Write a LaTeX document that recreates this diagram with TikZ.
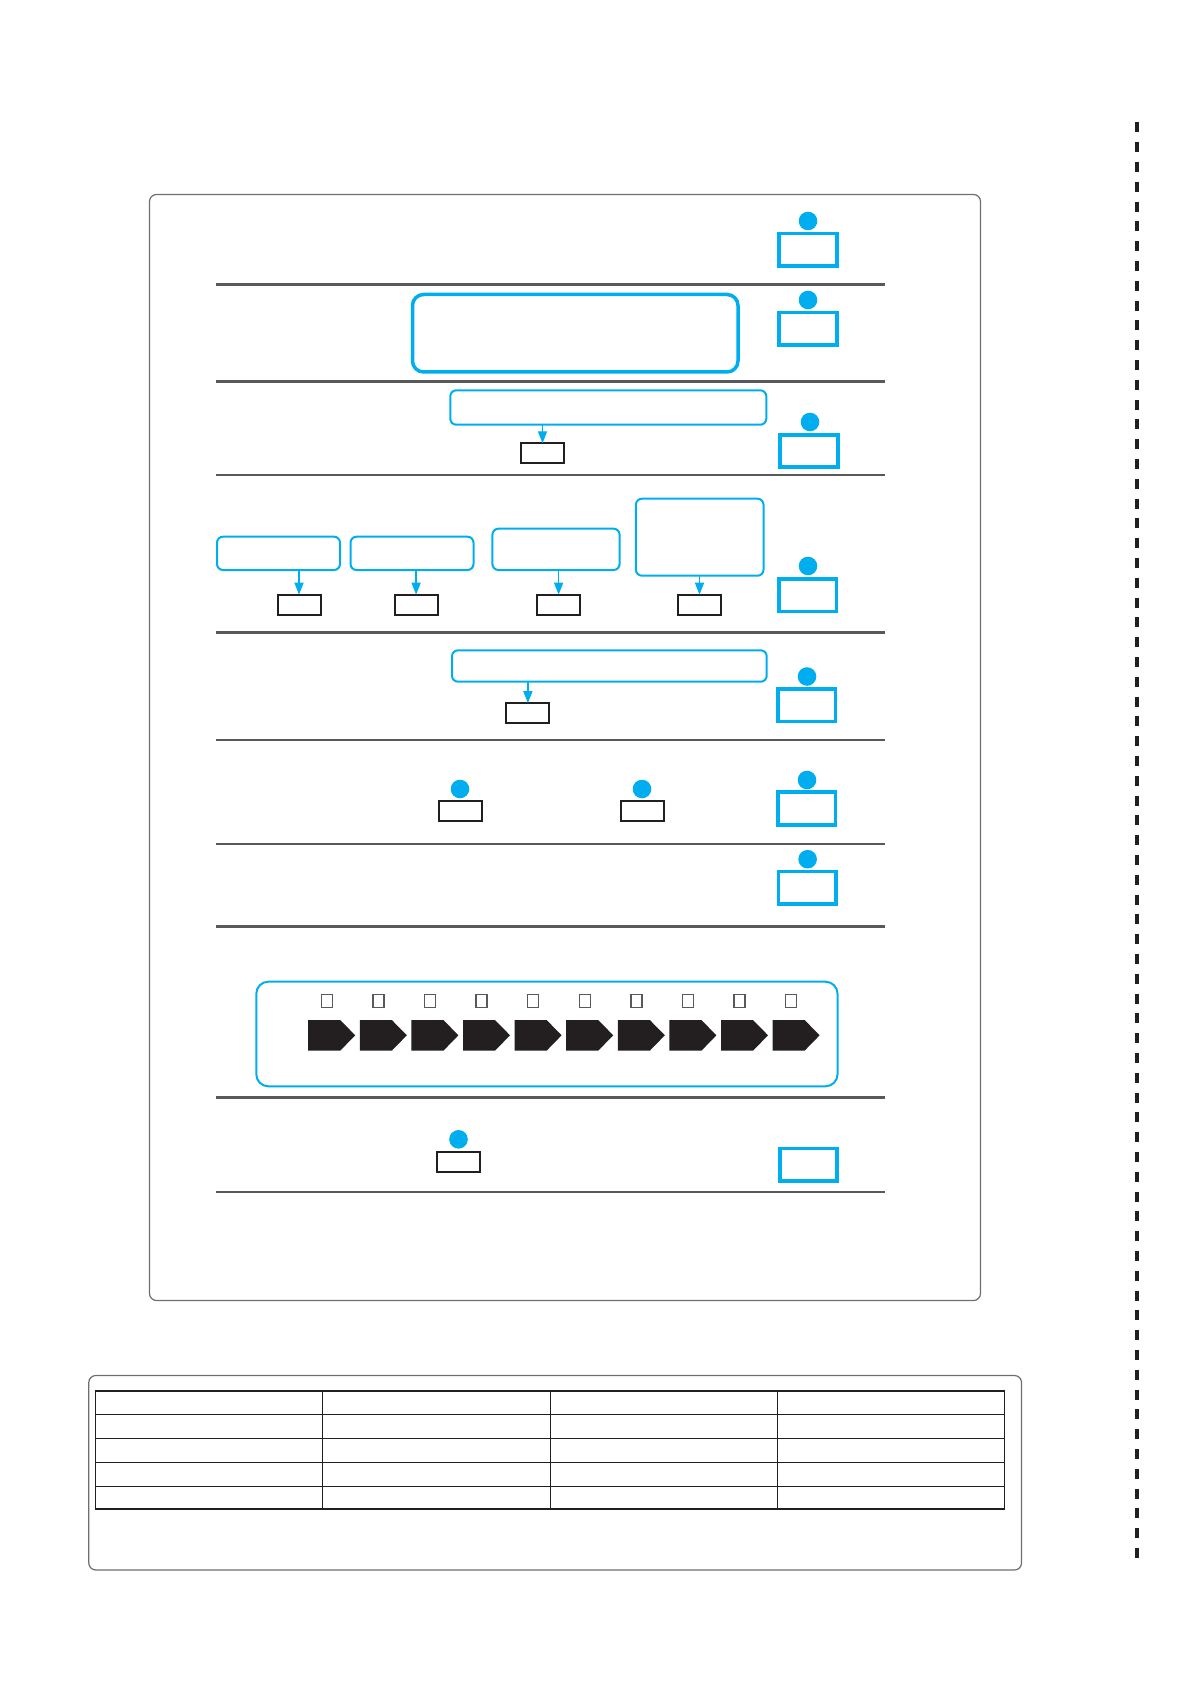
\documentclass[tikz,border=0pt]{standalone}
\usetikzlibrary{arrows.meta}
\definecolor{cyanblue}{HTML}{00AEEF}
\definecolor{inkblack}{HTML}{231F20}
\definecolor{sepgray}{HTML}{58595B}
\definecolor{framegray}{HTML}{6D6E71}
\begin{document}
\begin{tikzpicture}[x=0.5pt,y=-0.5pt,
  frame/.style={draw=framegray,line width=0.6pt,rounded corners=3.5pt},
  sepline/.style={draw=sepgray,line width=1.35pt},
  blbox/.style={draw=cyanblue,line width=1.8pt,minimum width=28.75pt,minimum height=16.25pt,inner sep=0pt,outer sep=0pt},
  dot/.style={circle,fill=cyanblue,minimum size=9.3pt,inner sep=0pt},
  sbox/.style={draw=inkblack,line width=1pt,minimum width=21.5pt,minimum height=10pt,inner sep=0pt,outer sep=0pt},
  rbox/.style={draw=cyanblue,line width=1pt,rounded corners=3pt,inner sep=0pt,outer sep=0pt},
  conn/.style={draw=cyanblue,line width=0.7pt,-{Triangle[length=6pt,width=4.5pt]}},
  tick/.style={draw=sepgray,line width=0.75pt,minimum width=5.5pt,minimum height=6.5pt,inner sep=0pt},
  tbl/.style={draw=inkblack,line width=0.65pt}
]
\useasboundingbox (0,0) rectangle (1191,1684);

% outer frame
\draw[frame] (149.5,194.5) rectangle (980.5,1300.5);

% separators
\foreach \yy in {284.5,381.3,475,632.5,740,844,926.8,1097.6,1192}
  \draw[sepline] (216,\yy) -- (885,\yy);

% person icons
\node[blbox] (b1) at (808,249.7) {};
\node[dot] (d1) at (808,221) {};
\node[blbox] (b2) at (808,328.8) {};
\node[dot] (d2) at (808,300) {};
\node[blbox] (b3) at (809,451) {};
\node[dot] (d3) at (810,422) {};
\node[blbox] (b4) at (807.6,595.3) {};
\node[dot] (d4) at (808,566) {};
\node[blbox] (b5) at (806.8,705.3) {};
\node[dot] (d5) at (807,676.5) {};
\node[blbox] (b6) at (806.8,808.5) {};
\node[dot] (d6) at (807,780) {};
\node[blbox] (b7) at (807.1,887.7) {};
\node[dot] (d7) at (807.6,859.2) {};
\node[blbox] (b9) at (808.5,1164.8) {};

% section 2
\node[rbox,line width=1.75pt,rounded corners=5.5pt,minimum width=162.75pt,minimum height=38.75pt] (r2) at (575.25,333.25) {};

% section 3
\node[rbox,minimum width=158pt,minimum height=17.2pt] (r3) at (608.3,407.5) {};
\node[sbox] (s3) at (542.5,453.3) {};
\draw[conn] (s3.north |- r3.south) -- (s3.north);

% section 4
\node[rbox,minimum width=61.5pt,minimum height=16.65pt] (r4a) at (278.5,553.35) {};
\node[rbox,minimum width=61.5pt,minimum height=16.65pt] (r4b) at (412,553.35) {};
\node[rbox,minimum width=63.6pt,minimum height=20.65pt] (r4c) at (556,549.35) {};
\node[rbox,minimum width=63.8pt,minimum height=38.5pt] (r4d) at (699.7,537.2) {};
\node[sbox] (s4a) at (299,604.7) {};
\node[sbox] (s4b) at (416.1,604.7) {};
\node[sbox] (s4c) at (558.6,604.7) {};
\node[sbox] (s4d) at (699.5,604.7) {};
\draw[conn] (s4a.north |- r4a.south) -- (s4a.north);
\draw[conn] (s4b.north |- r4b.south) -- (s4b.north);
\draw[conn] (s4c.north |- r4c.south) -- (s4c.north);
\draw[conn] (s4d.north |- r4d.south) -- (s4d.north);

% section 5
\node[rbox,minimum width=157.35pt,minimum height=15.7pt] (r5) at (609.35,666) {};
\node[sbox] (s5) at (527.9,713.2) {};
\draw[conn] (s5.north |- r5.south) -- (s5.north);

% section 6
\node[sbox] (s6a) at (460,811.3) {};
\node[dot] (d6a) at (460,789) {};
\node[sbox] (s6b) at (642,811.3) {};
\node[dot] (d6b) at (642,789) {};

% section 8
\node[rbox,rounded corners=6pt,minimum width=290.6pt,minimum height=52.3pt] (r8) at (546.9,1034) {};
\foreach \i in {0,...,9} {
  \pgfmathsetmacro{\xs}{308.2+51.6*\i}
  \fill[inkblack] (\xs,1020) -- ({\xs+32},1020) -- ({\xs+47},1035.3) -- ({\xs+32},1050.7) -- (\xs,1050.7) -- cycle;
  \node[tick] (t\i) at ({\xs+18.6},1001.2) {};
}

% section 9
\node[sbox] (s9) at (458.5,1161.5) {};
\node[dot] (d9) at (458.5,1139.3) {};

% lower table frame
\draw[frame] (88.8,1375.5) rectangle (1021.5,1570);
\foreach \yy in {1391,1414.4,1438.7,1462.5,1486.3,1509}
  \draw[tbl] (95.2,\yy) -- (1004.8,\yy);
\foreach \xx in {95.2,322.7,550.3,777.2,1004.8}
  \draw[tbl] (\xx,1391) -- (\xx,1509);

% dashed cut line
\draw[draw=inkblack,line width=2pt,dash pattern=on 5pt off 4.9pt] (1136.5,122.4) -- (1136.5,1562.6);
\end{tikzpicture}
\end{document}
